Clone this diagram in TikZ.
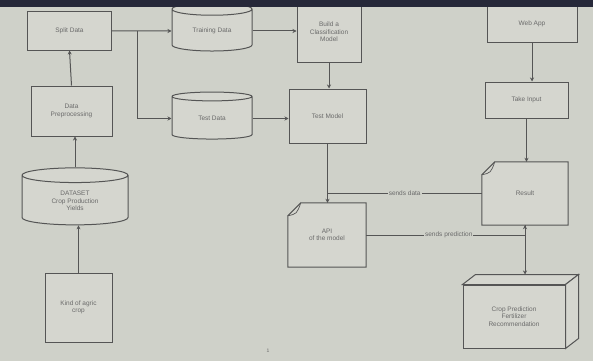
\documentclass[tikz,border=0pt]{standalone}
\usepackage{fontspec}
\setmainfont{Liberation Sans}
\usetikzlibrary{shapes.geometric,arrows.meta,calc}
\definecolor{bgc}{HTML}{CFD1C9}
\definecolor{boxc}{HTML}{D5D6CF}
\definecolor{linec}{HTML}{555555}
\definecolor{txtc}{HTML}{6A6A6A}
\definecolor{bandc}{HTML}{262839}
\tikzset{
  every node/.style={font=\fontsize{6.5}{7.5}\selectfont, text=txtc, align=center, inner sep=1pt},
  boxn/.style={rectangle, draw=linec, fill=boxc, line width=1pt},
  cyl/.style={cylinder, shape border rotate=90, aspect=0.3, draw=linec, fill=boxc, line width=1pt},
  plainn/.style={rectangle},
  arr/.style={draw=linec, line width=1pt, -{Stealth[length=4pt,width=4pt]}},
  conn/.style={draw=linec, line width=1pt},
  lbl/.style={fill=bgc, inner sep=1pt}
}
\begin{document}
\begin{tikzpicture}[x=1pt,y=-1pt]
\useasboundingbox (0,0) rectangle (593,361);
\fill[bgc] (0,0) rectangle (593,361);
% left column
\node[boxn, minimum width=84, minimum height=38] (split) at (69.5,31) {Split Data};
\node[boxn, minimum width=81, minimum height=50] (prep) at (71.5,111) {Data\\Preprocessing};
\node[cyl, minimum width=106, minimum height=57] (dataset) at (75,201) {DATASET\\Crop Production\\Yields};
\node[boxn, minimum width=67, minimum height=69] (kind) at (78.5,307.5) {Kind of agric\\crop};
% middle
\node[cyl, minimum width=80, minimum height=48] (train) at (212,31) {Training Data};
\node[cyl, minimum width=80, minimum height=47] (test) at (212,118.5) {Test Data};
\node[boxn, minimum width=64, minimum height=60] (build) at (329,32) {Build a\\Classification\\Model};
\node[boxn, minimum width=77, minimum height=54] (tmodel) at (327.5,116) {Test Model};
\node[plainn, minimum width=78, minimum height=64] (api) at (327,235) {API\\of the model};
% right
\node[boxn, minimum width=90, minimum height=38] (webapp) at (532,24) {Web App};
\node[boxn, minimum width=83, minimum height=36] (input) at (526.5,100) {Take Input};
\node[plainn, minimum width=86, minimum height=63] (result) at (525,193.5) {Result};
\node[boxn, minimum width=102, minimum height=63] (crop) at (514,316.5) {Crop Prediction\\Fertilizer\\Recommendation};
% document shapes
\foreach \n in {api,result}{
  \filldraw[draw=linec, fill=boxc, line width=1pt]
    ([xshift=13pt]\n.north west) -- (\n.north east) -- (\n.south east) -- (\n.south west) -- ([yshift=-13pt]\n.north west) -- cycle;
  \draw[linec, line width=0.7pt] ([yshift=-13pt]\n.north west) .. controls ([xshift=9pt,yshift=-11pt]\n.north west) .. ([xshift=13pt]\n.north west);
}
\node at (api) {API\\of the model};
\node at (result) {Result};
% 3D box faces
\draw[linec, line width=1pt, fill=boxc] (crop.north west) -- ++(13,-10) -- ([xshift=13pt,yshift=10pt]crop.north east) -- (crop.north east) -- cycle;
\draw[linec, line width=1pt, fill=boxc] (crop.north east) -- ([xshift=13pt,yshift=10pt]crop.north east) -- ([xshift=13pt,yshift=10pt]crop.south east) -- (crop.south east) -- cycle;
\coordinate (croptop) at ([yshift=10pt]crop.north);
% connectors
\draw[arr] (prep.north) -- (split.south);
\draw[arr] (dataset.north) -- (prep.south -| dataset.north);
\draw[arr] (kind.north) -- (kind.north |- dataset.south);
\draw[arr] (split.east) -- (train.west);
\coordinate (br) at (137,31);
\draw[arr] (br) |- (test.west);
\draw[arr] (train.east) -- (train.east -| build.west);
\draw[arr] (build.south) -- (build.south |- tmodel.north);
\draw[arr] (test.east) -- (test.east -| tmodel.west);
\draw[arr] (tmodel.south) -- (tmodel.south |- api.north);
\draw[conn] (result.west) -- node[lbl]{sends data} (result.west -| tmodel.south);
\coordinate (sp) at (api.east -| result.south);
\draw[conn] (api.east) -- node[lbl, pos=0.52]{sends prediction} (sp);
\draw[arr] (sp) -- (result.south);
\draw[arr] (result.south) -- (result.south |- croptop);
\draw[arr] (webapp.south) -- (webapp.south |- input.north);
\draw[arr] (input.south) -- (input.south |- result.north);
% page mark
\node[font=\fontsize{5}{6}\selectfont] (pg) at (268,351) {1};
% top band
\fill[bandc] (0,0) rectangle (593,7);
\end{tikzpicture}
\end{document}
